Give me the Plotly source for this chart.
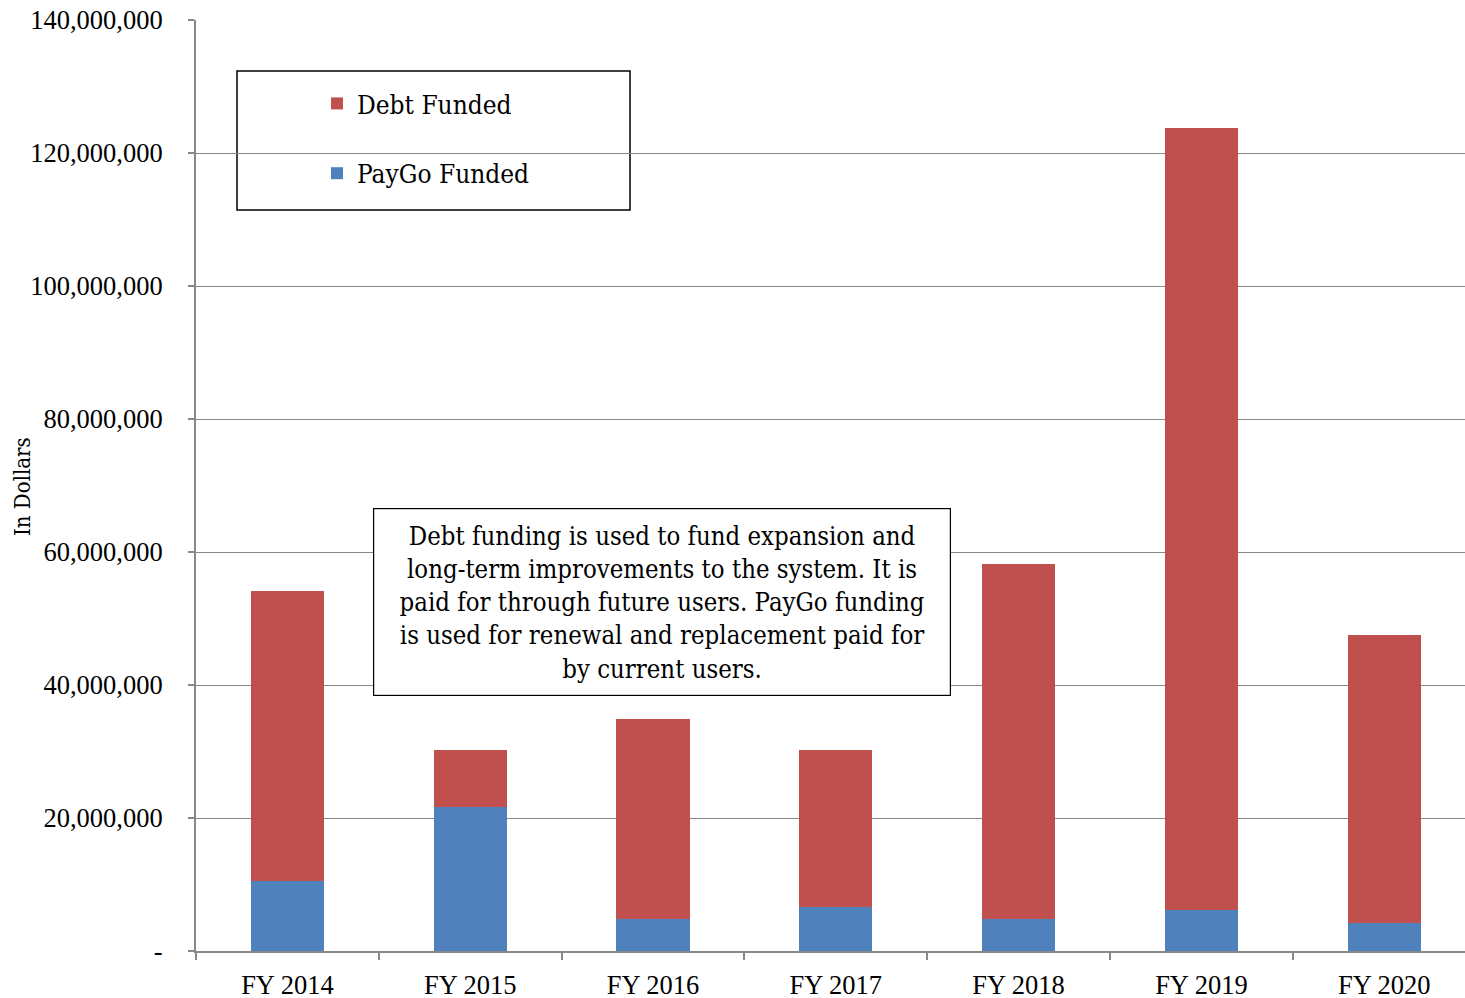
import plotly.graph_objects as go

categories = ["FY 2014", "FY 2015", "FY 2016", "FY 2017", "FY 2018", "FY 2019", "FY 2020"]
paygo = [10.5e6, 21.7e6, 4.8e6, 6.6e6, 4.8e6, 6.2e6, 4.2e6]
debt = [43.6e6, 8.5e6, 30.1e6, 23.6e6, 53.4e6, 117.6e6, 43.3e6]
ytick_vals = [0, 20e6, 40e6, 60e6, 80e6, 100e6, 120e6, 140e6]
ytick_text = ["-", "20,000,000", "40,000,000", "60,000,000", "80,000,000",
              "100,000,000", "120,000,000", "140,000,000"]
note = ("Debt funding is used to fund expansion and<br>long-term improvements to the system. It is<br>"
        "paid for through future users. PayGo funding<br>is used for renewal and replacement paid for<br>"
        "by current users.")

FONT = "Liberation Serif"
TFONT = "DejaVu Serif Condensed, DejaVu Serif, serif"

fig = go.Figure()
fig.add_trace(go.Bar(x=categories, y=paygo, name="PayGo Funded", marker_color="#4F81BD",
                     marker_line=dict(width=0), legendgroup="p", legendrank=2))
fig.add_trace(go.Bar(x=categories, y=debt, name="Debt Funded", marker_color="#C0504D",
                     marker_line=dict(width=0), legendgroup="d", legendrank=1))

fig.update_layout(
    width=1465, height=998,
    margin=dict(l=196, r=0, t=20, b=47, autoexpand=False),
    barmode="stack", bargap=0.6,
    plot_bgcolor="white", paper_bgcolor="white",
    font=dict(family=FONT, color="black", size=26),
    showlegend=True,
    legend=dict(x=(317-196)/1269, y=(951-80)/931, xanchor="left", yanchor="top",
                traceorder="grouped", tracegroupgap=33,
                font=dict(size=26, family=TFONT), bgcolor="rgba(0,0,0,0)",
                borderwidth=0, itemwidth=30),
    xaxis=dict(type="category", range=[-0.5, 6.442], showline=True, linecolor="#888888", linewidth=2,
               ticks="outside", tickson="boundaries", ticklen=7, tickcolor="#888888",
               tickwidth=1.5, showgrid=False, tickfont=dict(size=26.5), ticklabelstandoff=9),
    yaxis=dict(range=[0, 140e6], tickvals=ytick_vals, ticktext=ytick_text,
               showline=True, linecolor="#888888", linewidth=2,
               ticks="outside", ticklen=6, tickcolor="#888888", tickwidth=1.5,
               showgrid=True, gridcolor="#888888", gridwidth=1.2, zeroline=False,
               tickfont=dict(size=26.5), ticklabelstandoff=20),
)

fig.add_shape(type="rect", xref="paper", yref="paper",
              x0=(237-196)/1269, x1=(630-196)/1269, y0=(951-210)/931, y1=(951-71)/931,
              line=dict(color="black", width=1.5), fillcolor="white", layer="below")

fig.add_annotation(xref="paper", yref="paper", x=(22-196)/1269, y=(951-487)/931,
                   text="In Dollars", textangle=-90, showarrow=False,
                   xanchor="center", yanchor="middle", font=dict(size=22, family=TFONT))

fig.add_annotation(xref="paper", yref="paper", x=(661.5-196)/1269, y=(951-602)/931,
                   text=note, showarrow=False, align="center",
                   font=dict(size=25.5, family=TFONT), bgcolor="white",
                   bordercolor="black", borderwidth=1.2, borderpad=0,
                   width=576, height=186)

fig.write_html("out.html")
